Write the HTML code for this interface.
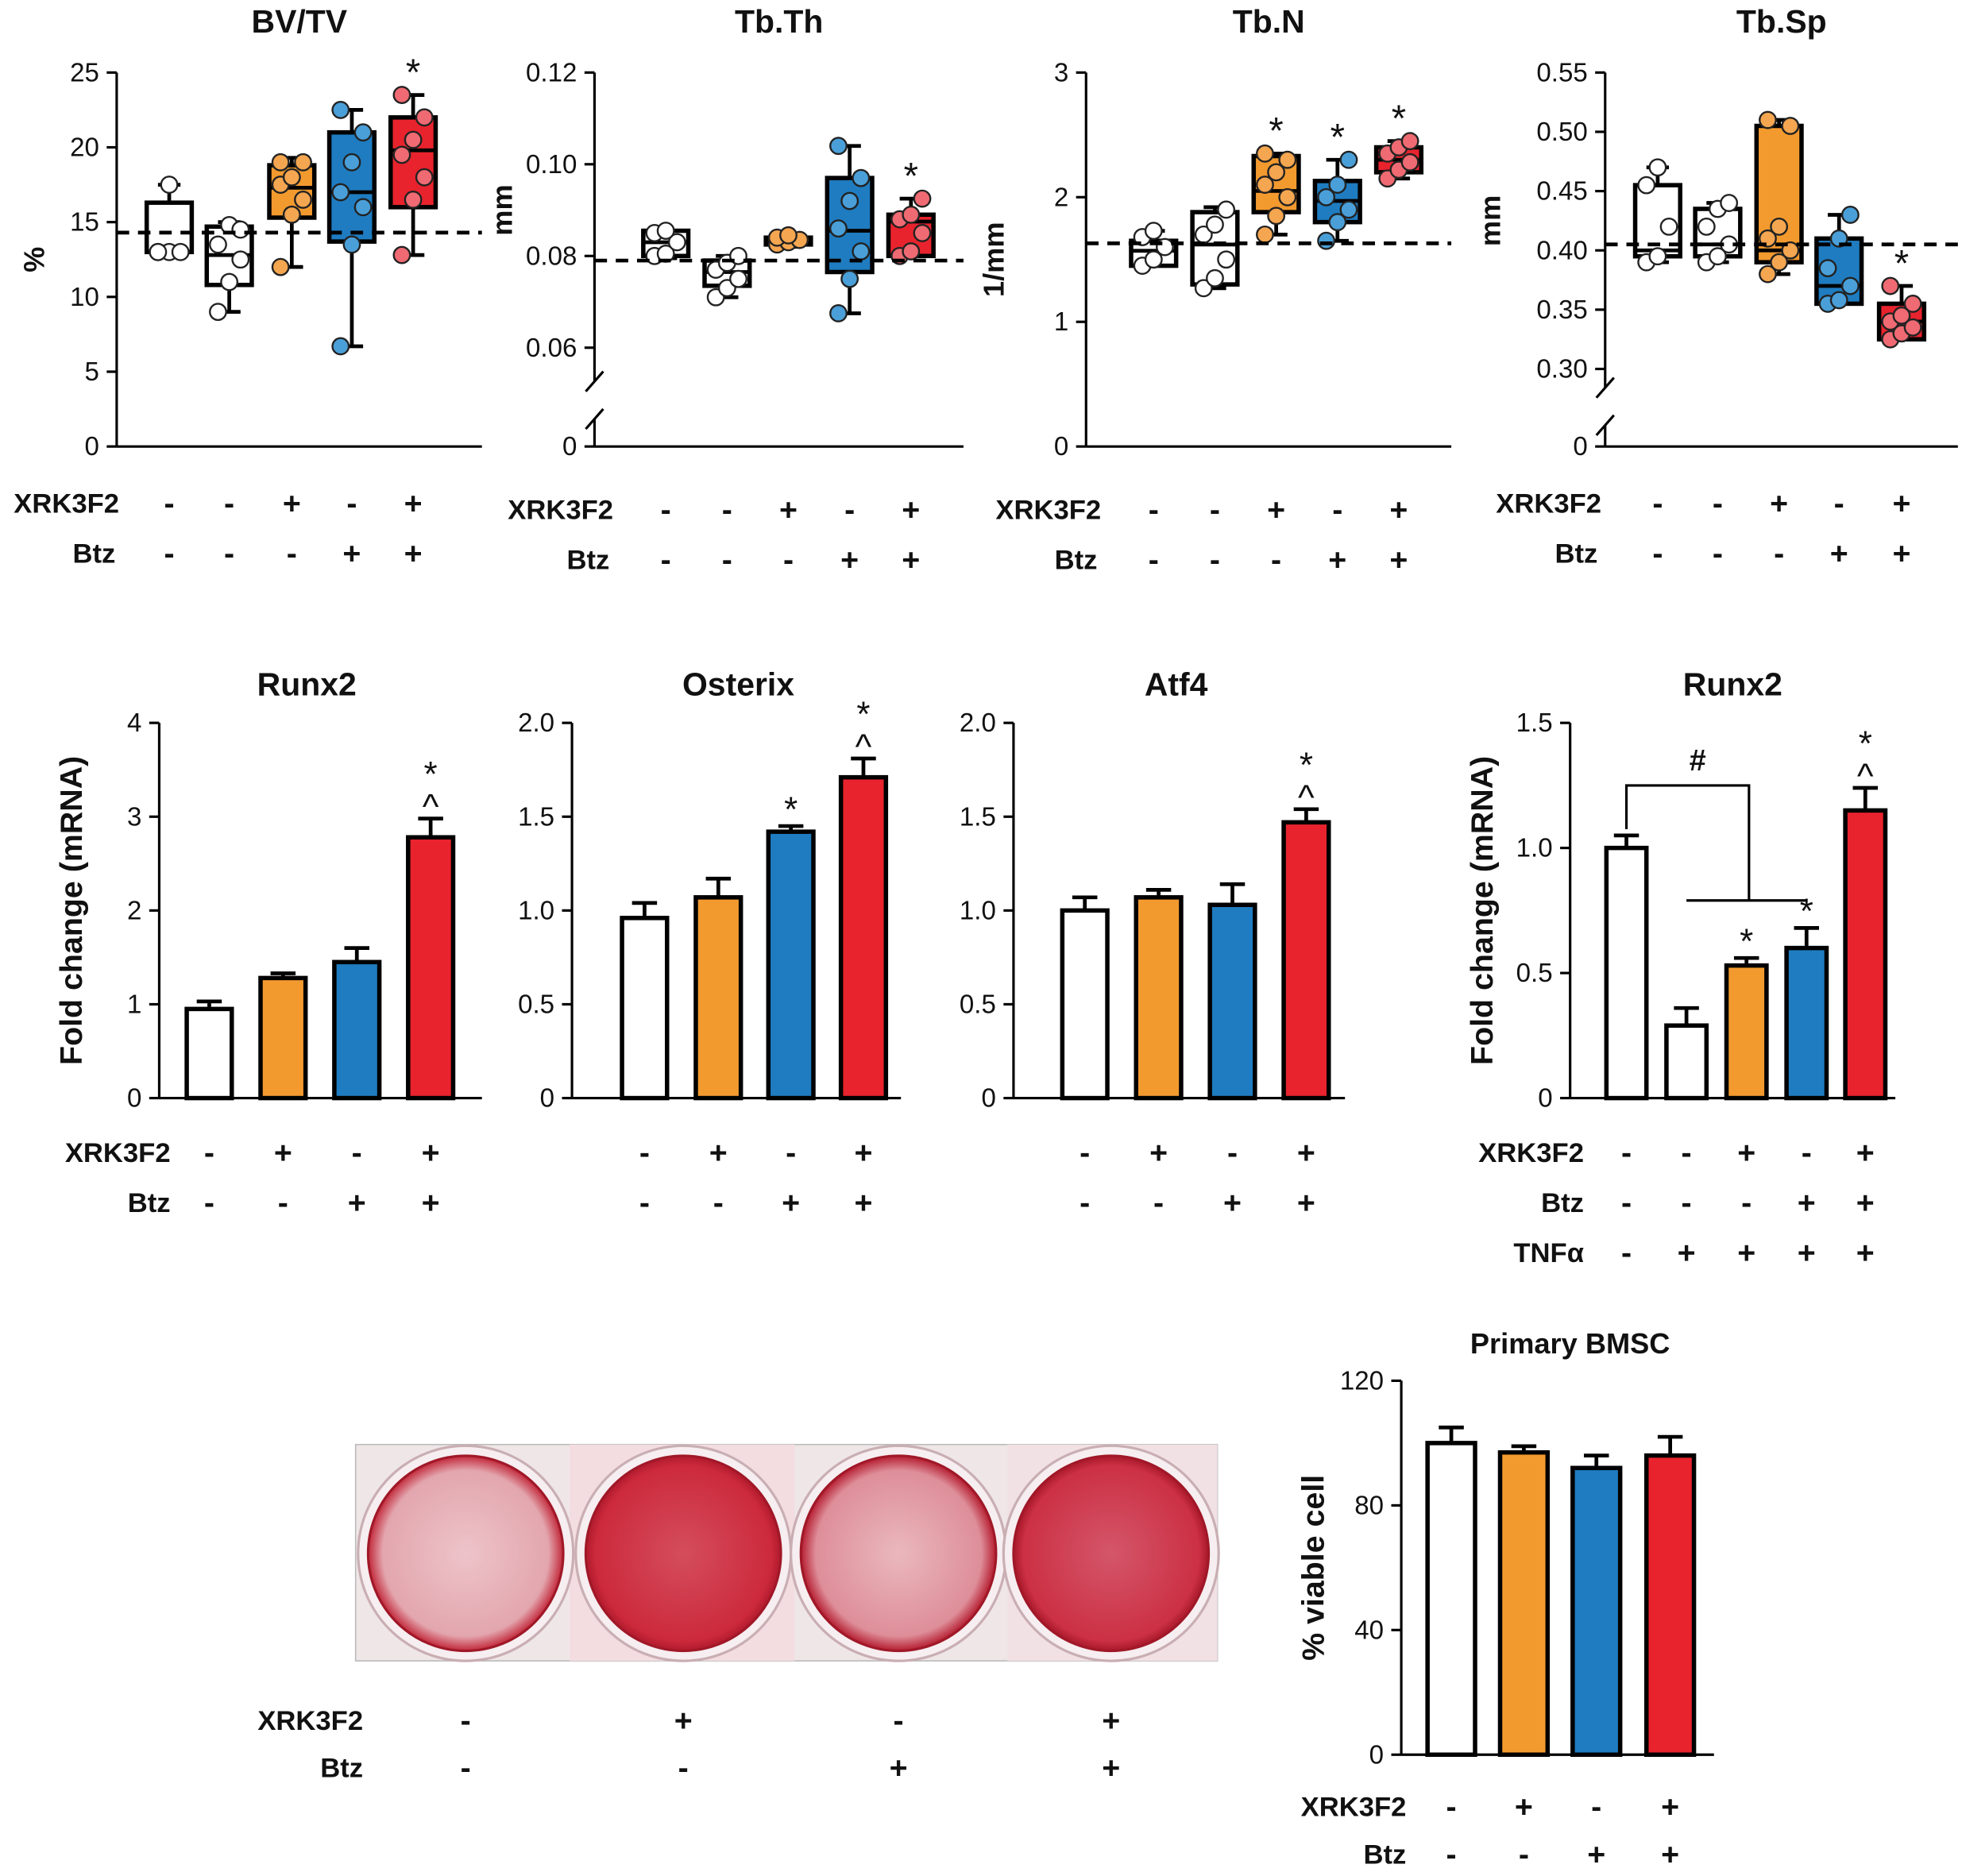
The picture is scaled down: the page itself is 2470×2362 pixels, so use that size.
<!DOCTYPE html>
<html><head><meta charset="utf-8"><style>
html,body{margin:0;padding:0;background:#fff}
svg{display:block}
text{font-family:"Liberation Sans",Arial,sans-serif;fill:#111}
</style></head><body>
<svg id="fig" xmlns="http://www.w3.org/2000/svg" width="2470" height="2362" viewBox="0 0 1568 1500">
<defs>
<radialGradient id="well1" cx="50%" cy="50%" r="50%"><stop offset="0" stop-color="#edc4c9"/><stop offset="0.85" stop-color="#e3a6ae"/><stop offset="1" stop-color="#c2283a"/></radialGradient>
<radialGradient id="well2" cx="50%" cy="50%" r="50%"><stop offset="0" stop-color="#d44d5c"/><stop offset="0.9" stop-color="#cc2a3c"/><stop offset="1" stop-color="#b01a2c"/></radialGradient>
<radialGradient id="well3" cx="50%" cy="50%" r="50%"><stop offset="0" stop-color="#eab8be"/><stop offset="0.85" stop-color="#de8e99"/><stop offset="1" stop-color="#b51d30"/></radialGradient>
<radialGradient id="well4" cx="50%" cy="50%" r="50%"><stop offset="0" stop-color="#d4566a"/><stop offset="0.9" stop-color="#cc3044"/><stop offset="1" stop-color="#a8182a"/></radialGradient>
</defs>
<g id="root"></g>
</svg>
<script>
const boxTitles = ["BV/TV","Tb.Th","Tb.N","Tb.Sp"];
const bvtvStats = [[13,13,13,16.3,17.5],[9,10.8,12.8,14.7,15],[12,15.3,17.3,18.8,19.3],[6.7,13.7,17,21,22.5],[12.8,16,19.8,22,23.5]];
const bvtvPts = [[13,13,13,13,17.5],[9,11,12.5,13.5,14.8,14.5],[12,15.5,16.5,17.5,18,19,19],[6.7,13.5,16,17,19,21,22.5],[12.8,16.5,18,19.5,20.5,22,23.5]];
const tbthStats = [[0.0795,0.080,0.083,0.0855,0.0855],[0.071,0.0735,0.0765,0.079,0.080],[0.082,0.0825,0.083,0.084,0.0845],[0.0675,0.0765,0.0855,0.097,0.104],[0.080,0.080,0.0875,0.089,0.0925]];
const tbthPts = [[0.080,0.0805,0.083,0.085,0.0855],[0.071,0.073,0.075,0.077,0.0785,0.080],[0.0825,0.083,0.0835,0.084,0.0845],[0.0675,0.075,0.081,0.086,0.092,0.097,0.104],[0.080,0.081,0.085,0.088,0.089,0.0925]];
const tbnStats = [[1.45,1.45,1.57,1.65,1.73],[1.27,1.3,1.62,1.88,1.92],[1.7,1.88,2.05,2.33,2.35],[1.65,1.8,1.97,2.13,2.3],[2.15,2.2,2.3,2.4,2.45]];
const tbnPts = [[1.45,1.5,1.6,1.68,1.73],[1.27,1.35,1.5,1.7,1.78,1.9],[1.7,1.85,2.0,2.1,2.2,2.3,2.35],[1.65,1.8,1.9,2.0,2.1,2.3],[2.15,2.22,2.28,2.35,2.4,2.45]];
const tbspStats = [[0.39,0.395,0.40,0.455,0.47],[0.39,0.395,0.405,0.435,0.44],[0.38,0.39,0.40,0.505,0.51],[0.355,0.355,0.37,0.41,0.43],[0.325,0.325,0.34,0.355,0.37]];
const tbspPts = [[0.39,0.395,0.42,0.455,0.47],[0.39,0.395,0.405,0.42,0.435,0.44],[0.38,0.39,0.40,0.41,0.42,0.505,0.51],[0.355,0.358,0.37,0.385,0.41,0.43],[0.325,0.33,0.335,0.34,0.345,0.355,0.37]];
const boxColors = ["#ffffff","#ffffff","#f39a2f","#1f7cc0","#e8232d"];
const dotColors = ["#ffffff","#ffffff","#f5a650","#4a9fd8","#ef6a72"];
const runx2Vals = [0.95,1.28,1.45,2.78];
const runx2Err = [0.08,0.05,0.15,0.2];
const osxVals = [0.96,1.07,1.42,1.71];
const osxErr = [0.08,0.1,0.03,0.1];
const atf4Vals = [1.0,1.07,1.03,1.47];
const atf4Err = [0.07,0.04,0.11,0.07];
const runx2bVals = [1.0,0.29,0.53,0.6,1.15];
const runx2bErr = [0.05,0.07,0.03,0.08,0.09];
const bmscVals = [100,97,92,96];
const bmscErr = [5,2,4,6];
const xrk4 = ["-","+","-","+"], btz4 = ["-","-","+","+"];
const xrk5 = ["-","-","+","-","+"], btz5 = ["-","-","-","+","+"], tnf5 = ["-","+","+","+","+"];

const NS="http://www.w3.org/2000/svg";
const root=document.getElementById('root');
function el(tag,attrs,parent,txt){const e=document.createElementNS(NS,tag);for(const k in attrs)e.setAttribute(k,attrs[k]);if(txt!==undefined)e.textContent=txt;(parent||root).appendChild(e);return e;}
function txt(x,y,s,size,bold,anchor,parent){return el('text',{x:x,y:y,'font-size':size,'font-weight':bold?'bold':'normal','text-anchor':anchor||'middle'},parent,s);}

function yAxis(g,x,y0,y1,ticks,scale,labels,brk){
  if(brk){el('line',{x1:x,y1:y0,x2:x,y2:brk[0],stroke:'#000','stroke-width':2},g);
    el('line',{x1:x,y1:brk[1],x2:x,y2:y1,stroke:'#000','stroke-width':2},g);
    el('line',{x1:x-7,y1:brk[0]+8,x2:x+7,y2:brk[0]-8,stroke:'#000','stroke-width':2},g);
    el('line',{x1:x-7,y1:brk[1]+8,x2:x+7,y2:brk[1]-8,stroke:'#000','stroke-width':2},g);
    el('line',{x1:x-8,y1:y1,x2:x,y2:y1,stroke:'#000','stroke-width':2},g);
    txt(x-14,y1+7,'0',21,false,'end',g);
  } else el('line',{x1:x,y1:y0,x2:x,y2:y1,stroke:'#000','stroke-width':2},g);
  ticks.forEach((t,i)=>{const y=scale(t);el('line',{x1:x-8,y1:y,x2:x,y2:y,stroke:'#000','stroke-width':2},g);
    const l=txt(x-14,y+7,labels[i],21,false,'end',g);});
}

function signRow(g,label,xs,signs,y,lx){
  const l=txt(lx,y+7,label,22,true,'end',g);
  
  
  signs.forEach((s,i)=>{const t=txt(xs[i],y+8,s==='+'?'+':'-',25,true,'middle',g);
    
    });
}

const boxPanels=[
 {title:boxTitles[0],ax:93,xend:385,top:58,bot:357,min:0,max:25,ticks:[0,5,10,15,20,25],labels:["0","5","10","15","20","25"],xs:[135,183,233,281,330],stats:bvtvStats,pts:bvtvPts,dash:14.3,ylab:"%",stars:[4],brk:null,signY:[403,443],lx:95},
 {title:boxTitles[1],ax:475,xend:770,top:58,bot:278,min:0.06,max:0.12,ticks:[0.06,0.08,0.10,0.12],labels:["0.06","0.08","0.10","0.12"],xs:[532,581,630,679,728],stats:tbthStats,pts:tbthPts,dash:0.079,ylab:"mm",stars:[4],brk:[305,335],signY:[408,448],lx:490},
 {title:boxTitles[2],ax:868,xend:1160,top:58,bot:357,min:0,max:3,ticks:[0,1,2,3],labels:["0","1","2","3"],xs:[922,971,1020,1069,1118],stats:tbnStats,pts:tbnPts,dash:1.63,ylab:"1/mm",stars:[2,3,4],brk:null,signY:[408,448],lx:880},
 {title:boxTitles[3],ax:1283,xend:1565,top:58,bot:295,min:0.30,max:0.55,ticks:[0.30,0.35,0.40,0.45,0.50,0.55],labels:["0.30","0.35","0.40","0.45","0.50","0.55"],xs:[1325,1373,1422,1470,1520],stats:tbspStats,pts:tbspPts,dash:0.405,ylab:"mm",stars:[4],brk:[310,340],signY:[403,443],lx:1280}
];
const ylabOff=[58,66,66,84];
boxPanels.forEach((p,pi)=>{
  const g=el('g',{});
  
  
  const sc=v=>p.bot-(v-p.min)/(p.max-p.min)*(p.bot-p.top);
  const t=txt((p.ax+p.xend)/2,26,p.title,26,true,'middle',g);
  
  
  yAxis(g,p.ax,p.top,357,p.ticks,sc,p.labels,p.brk);
  el('line',{x1:p.ax,y1:357,x2:p.xend,y2:357,stroke:'#000','stroke-width':2},g);
  const yl=el('text',{x:0,y:0,'font-size':23,'font-weight':'bold','text-anchor':'middle',transform:`translate(${p.ax-ylabOff[pi]},${(p.top+p.bot)/2}) rotate(-90)`},g,p.ylab);
  
  
  p.stats.forEach((s,i)=>{
    const x=p.xs[i],w=36;
    const b=el('g',{},g);
    
    
    el('line',{x1:x,y1:sc(s[0]),x2:x,y2:sc(s[4]),stroke:'#000','stroke-width':3},b);
    el('line',{x1:x-9,y1:sc(s[0]),x2:x+9,y2:sc(s[0]),stroke:'#000','stroke-width':3},b);
    el('line',{x1:x-9,y1:sc(s[4]),x2:x+9,y2:sc(s[4]),stroke:'#000','stroke-width':3},b);
    el('rect',{x:x-w/2,y:sc(s[3]),width:w,height:Math.max(1,sc(s[1])-sc(s[3])),fill:boxColors[i],stroke:'#000','stroke-width':3.5},b);
    el('line',{x1:x-w/2,y1:sc(s[2]),x2:x+w/2,y2:sc(s[2]),stroke:'#000','stroke-width':3},b);
    p.pts[i].forEach((v,j)=>{const dx=(j%3-1)*9;
      const c=el('circle',{cx:x+dx,cy:sc(v),r:6.5,fill:dotColors[i],stroke:'#222','stroke-width':1.5},b);
      
      });
  });
  const dl=el('line',{x1:p.ax,y1:sc(p.dash),x2:p.xend,y2:sc(p.dash),stroke:'#000','stroke-width':3,'stroke-dasharray':'10,7'},g);
  
  
  p.stars.forEach(i=>{const st=txt(p.xs[i],sc(p.stats[i][4])-8,'*',30,false,'middle',g);
    
    });
  signRow(g,'XRK3F2',p.xs,xrk5,p.signY[0],p.lx);
  signRow(g,'Btz',p.xs,btz5,p.signY[1],p.lx-3);
});

const barColors4=["#ffffff","#f39a2f","#1f7cc0","#e8232d"];
const barColors5=["#ffffff","#ffffff","#f39a2f","#1f7cc0","#e8232d"];
const barPanels=[
 {name:'runx2',title:'Runx2',tx:245,ax:127,xend:385,top:578,bot:878,max:4,ticks:[0,1,2,3,4],labels:["0","1","2","3","4"],xs:[167,226,285,344],vals:runx2Vals,err:runx2Err,cols:barColors4,w:36,marks:[[],[],[],['*','^']],ylab:'Fold change (mRNA)',rows:[['XRK3F2',xrk4,922],['Btz',btz4,962]],lx:136},
 {name:'osterix',title:'Osterix',tx:590,ax:457,xend:720,top:578,bot:878,max:2,ticks:[0,0.5,1,1.5,2],labels:["0","0.5","1.0","1.5","2.0"],xs:[515,574,632,690],vals:osxVals,err:osxErr,cols:barColors4,w:36,marks:[[],[],['*'],['*','^']],rows:[['',xrk4,922],['',btz4,962]],lx:0},
 {name:'atf4',title:'Atf4',tx:940,ax:810,xend:1075,top:578,bot:878,max:2,ticks:[0,0.5,1,1.5,2],labels:["0","0.5","1.0","1.5","2.0"],xs:[867,926,985,1044],vals:atf4Vals,err:atf4Err,cols:barColors4,w:36,marks:[[],[],[],['*','^']],rows:[['',xrk4,922],['',btz4,962]],lx:0},
 {name:'runx2-tnf',title:'Runx2',tx:1385,ax:1255,xend:1515,top:578,bot:878,max:1.5,ticks:[0,0.5,1,1.5],labels:["0","0.5","1.0","1.5"],xs:[1300,1348,1396,1444,1491],vals:runx2bVals,err:runx2bErr,cols:barColors5,w:32,marks:[[],[],['*'],['*'],['*','^']],ylab:'Fold change (mRNA)',rows:[['XRK3F2',xrk5,922],['Btz',btz5,962],['TNF\u03b1',tnf5,1002]],lx:1266},
 {name:'primary-bmsc',title:'Primary BMSC',tx:1255,ax:1120,xend:1370,top:1104,bot:1403,max:120,ticks:[0,40,80,120],labels:["0","40","80","120"],xs:[1160,1218,1276,1335],vals:bmscVals,err:bmscErr,cols:barColors4,w:38,marks:[[],[],[],[]],ylab:'% viable cell',rows:[['XRK3F2',xrk4,1445],['Btz',btz4,1483]],lx:1124,tsize:23}
];
barPanels.forEach(p=>{
  const g=el('g',{});
  
  
  const sc=v=>p.bot-v/p.max*(p.bot-p.top);
  const t=txt(p.tx,p.top-22,p.title,p.tsize||26,true,'middle',g);
  
  
  yAxis(g,p.ax,p.top,p.bot,p.ticks,sc,p.labels,null);
  el('line',{x1:p.ax,y1:p.bot,x2:p.xend,y2:p.bot,stroke:'#000','stroke-width':2},g);
  if(p.ylab){const yl=el('text',{x:0,y:0,'font-size':25,'font-weight':'bold','text-anchor':'middle',transform:`translate(${p.ax-62},${(p.top+p.bot)/2}) rotate(-90)`},g,p.ylab);
    
    }
  p.vals.forEach((v,i)=>{
    const x=p.xs[i],w=p.w,yt=sc(v),ye=sc(v+p.err[i]);
    el('line',{x1:x,y1:yt,x2:x,y2:ye,stroke:'#000','stroke-width':3},g);
    el('line',{x1:x-10,y1:ye,x2:x+10,y2:ye,stroke:'#000','stroke-width':3},g);
    const r=el('rect',{x:x-w/2,y:yt,width:w,height:p.bot-yt,fill:p.cols[i],stroke:'#000','stroke-width':3.5},g);
    
    
    p.marks[i].forEach((m,k)=>{
      const yy=ye-12-(p.marks[i].length-1-k)*22;
      const s=txt(x,yy+(m==='^'?12:8),m,28,false,'middle',g);
      
      });
  });
  p.rows.forEach(r=>signRow(g,r[0],p.xs,r[1],r[2],p.lx));
  if(p.name==='runx2-tnf'){
    const b=el('g',{},g);
    
    
    el('polyline',{points:`${p.xs[0]},${sc(p.vals[0]+p.err[0])-5} ${p.xs[0]},628 1398,628 1398,720`,fill:'none',stroke:'#000','stroke-width':2},b);
    el('line',{x1:p.xs[1],y1:720,x2:p.xs[3],y2:720,stroke:'#000','stroke-width':2},b);
    txt(1357,616,'#',24,true,'middle',b);
  }
});

const ph=el('g',{});


el('rect',{x:284,y:1155,width:689,height:173,fill:'#efe6e8',stroke:'#bbb','stroke-width':1},ph);
el('rect',{x:455,y:1155,width:180,height:173,fill:'#f3dde1'},ph);
el('rect',{x:805,y:1155,width:168,height:173,fill:'#f1e1e4'},ph);
const wellX=[372,546,718,888];
wellX.forEach((x,i)=>{
  const w=el('g',{},ph);
  
  
  el('circle',{cx:x,cy:1242,r:86,fill:'#f6eef0',stroke:'#c9aeb3','stroke-width':2},w);
  el('circle',{cx:x,cy:1242,r:78,fill:`url(#well${i+1})`,stroke:'#a01828','stroke-width':2},w);
});
signRow(ph,'XRK3F2',wellX,xrk4,1376,290);
signRow(ph,'Btz',wellX,btz4,1414,290);
</script>
</body></html>
